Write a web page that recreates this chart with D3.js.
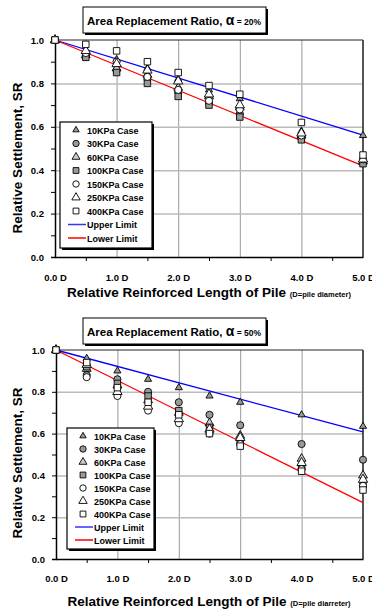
<!DOCTYPE html>
<html>
<head>
<meta charset="utf-8">
<script src="https://cdn.jsdelivr.net/npm/d3@7"></script>
<style>
  body { margin: 0; background: #fff; }
  svg { display: block; font-family: "Liberation Sans", Arial, sans-serif; font-weight: bold; }
</style>
</head>
<body>
<svg width="372" height="610"></svg>
<script>
// relative reinforced length of pile (in D)
const lengths = [0, 0.5, 1, 1.5, 2, 2.5, 3, 4, 5];
const cases = ['10KPa Case', '30KPa Case', '60KPa Case', '100KPa Case', '150KPa Case', '250KPa Case', '400KPa Case'];

// SR values, one row per case, alpha = 20%
const alpha20 = [
  [1, 0.95, 0.91, 0.87, 0.82, 0.77, 0.73, 0.58, 0.56],
  [1, 0.93, 0.86, 0.82, 0.76, 0.71, 0.66, 0.55, 0.44],
  [1, 0.93, 0.87, 0.84, 0.78, 0.74, 0.69, 0.56, 0.44],
  [1, 0.92, 0.85, 0.80, 0.74, 0.70, 0.645, 0.54, 0.43],
  [1, 0.94, 0.90, 0.83, 0.77, 0.72, 0.68, 0.56, 0.45],
  [1, 0.95, 0.89, 0.86, 0.81, 0.75, 0.70, 0.57, 0.45],
  [1, 0.98, 0.95, 0.90, 0.85, 0.79, 0.75, 0.62, 0.47]
];
// alpha = 50%
const alpha50 = [
  [1, 0.96, 0.90, 0.86, 0.82, 0.78, 0.75, 0.69, 0.635],
  [1, 0.88, 0.86, 0.80, 0.75, 0.69, 0.64, 0.55, 0.475],
  [1, 0.91, 0.83, 0.76, 0.70, 0.65, 0.59, 0.48, 0.40],
  [1, 0.92, 0.84, 0.78, 0.71, 0.63, 0.56, 0.44, 0.36],
  [1, 0.87, 0.78, 0.71, 0.65, 0.60, 0.55, 0.43, 0.35],
  [1, 0.93, 0.80, 0.73, 0.67, 0.62, 0.58, 0.46, 0.38],
  [1, 0.94, 0.82, 0.75, 0.69, 0.60, 0.54, 0.42, 0.33]
];

// limit lines, SR at 0 D and 5 D
const limitX = [0, 5];
const upper20 = [1.0, 0.562];
const lower20 = [1.0, 0.42];
const upper50 = [1.0, 0.608];
const lower50 = [1.0, 0.27];

const xTicks = [0, 1, 2, 3, 4, 5];
const yTicks = [0, 0.2, 0.4, 0.6, 0.8, 1.0];

// marker styles in case order
const markers = [
  {type: d3.symbolTriangle, size: 22, fill: '#999'},
  {type: d3.symbolCircle, size: 40, fill: '#999'},
  {type: d3.symbolTriangle, size: 34, fill: '#ccc'},
  {type: d3.symbolSquare, size: 42, fill: '#999'},
  {type: d3.symbolCircle, size: 40, fill: '#fff'},
  {type: d3.symbolTriangle, size: 38, fill: '#fff'},
  {type: d3.symbolSquare, size: 42, fill: '#fff'}
];

let svg = d3.select('svg');

function drawPanel(p) {
  let g = svg.append('g');

  let xScale = d3.scaleLinear().domain([0, 5]).range([p.left, p.right]);
  let yScale = d3.scaleLinear().domain([0, 1]).range([p.bottom, p.top]);

  // title box
  let tb = g.append('g');
  tb.append('rect')
    .attr('x', 85).attr('y', p.titleY + 2)
    .attr('width', 183).attr('height', 26)
    .attr('fill', '#000');
  tb.append('rect')
    .attr('x', 83).attr('y', p.titleY)
    .attr('width', 183).attr('height', 26)
    .attr('fill', '#fff').attr('stroke', '#000').attr('stroke-width', 1);
  let tt = tb.append('text')
    .attr('x', 174).attr('y', p.titleY + 17.5)
    .attr('text-anchor', 'middle')
    .style('font-size', '11.5px');
  tt.append('tspan').text('Area Replacement Ratio, ');
  tt.append('tspan').style('font-size', '14px').text('α');
  tt.append('tspan').style('font-size', '8.5px').text(' = ' + p.ratio);

  // grid
  g.append('g')
    .attr('transform', `translate(0,${p.bottom})`)
    .call(d3.axisBottom(xScale).tickValues([1, 2, 3, 4]).tickSize(-(p.bottom - p.top)).tickFormat(''))
    .call(a => a.select('.domain').remove())
    .selectAll('line').attr('stroke', '#999').attr('stroke-width', 1);
  g.append('g')
    .attr('transform', `translate(${p.left},0)`)
    .call(d3.axisLeft(yScale).tickValues([0.2, 0.4, 0.6, 0.8]).tickSize(-(p.right - p.left)).tickFormat(''))
    .call(a => a.select('.domain').remove())
    .selectAll('line').attr('stroke', '#bbb').attr('stroke-width', 1.5);

  // frame
  g.append('line').attr('x1', p.left).attr('x2', p.right).attr('y1', p.top).attr('y2', p.top)
    .attr('stroke', '#222').attr('stroke-width', 1);
  g.append('line').attr('x1', p.right).attr('x2', p.right).attr('y1', p.top).attr('y2', p.bottom)
    .attr('stroke', '#555').attr('stroke-width', 2);

  // axes
  let yAxis = g.append('g')
    .attr('transform', `translate(${p.left},0)`)
    .call(d3.axisLeft(yScale).tickValues(yTicks).tickSize(4).tickPadding(7).tickFormat(d3.format('.1f')));
  yAxis.append('g')
    .call(d3.axisLeft(yScale).tickValues(d3.range(0.1, 1, 0.2)).tickSize(4).tickFormat(''))
    .select('.domain').remove();
  let xAxis = g.append('g')
    .attr('transform', `translate(0,${p.bottom})`)
    .call(d3.axisBottom(xScale).tickValues(xTicks).tickSize(0).tickPadding(p.xLabelPad).tickFormat(d => d3.format('.1f')(d) + ' D'));
  xAxis.append('g')
    .call(d3.axisBottom(xScale).tickValues(d3.range(0.5, 5, 1)).tickSize(4).tickFormat(''))
    .select('.domain').remove();
  [xAxis, yAxis].forEach(a => {
    a.selectAll('.domain').attr('stroke', '#000').attr('stroke-width', 1.5);
    a.selectAll('line').attr('stroke', '#000');
    a.selectAll('text').style('font-size', '9.5px').style('font-family', '"Liberation Sans", Arial, sans-serif').style('font-weight', 'bold').attr('fill', '#000');
  });

  // limit lines
  let line = d3.line().x(d => xScale(d[0])).y(d => yScale(d[1]));
  g.append('path').datum(limitX.map((x, i) => [x, p.upper[i]]))
    .attr('d', line).attr('fill', 'none').attr('stroke', '#0000ff').attr('stroke-width', 1.3);
  g.append('path').datum(limitX.map((x, i) => [x, p.lower[i]]))
    .attr('d', line).attr('fill', 'none').attr('stroke', '#ff0000').attr('stroke-width', 1.3);

  // points
  p.data.forEach((row, ci) => {
    let m = markers[ci];
    g.append('g').selectAll('path')
      .data(row.map((v, i) => [lengths[i], v]))
      .enter()
      .append('path')
      .attr('transform', d => `translate(${xScale(d[0])},${yScale(d[1])})`)
      .attr('d', d3.symbol().type(m.type).size(m.size))
      .attr('fill', m.fill)
      .attr('stroke', '#000')
      .attr('stroke-width', 0.9);
  });

  // legend
  let lg = g.append('g').attr('transform', `translate(${p.legX},${p.legY})`);
  lg.append('rect').attr('x', 2).attr('y', 2).attr('width', p.legW).attr('height', p.legH).attr('fill', '#000');
  lg.append('rect').attr('x', 0).attr('y', 0).attr('width', p.legW).attr('height', p.legH)
    .attr('fill', '#fff').attr('stroke', '#000').attr('stroke-width', 1.2);
  let items = cases.concat(['Upper Limit', 'Lower Limit']);
  items.forEach((name, i) => {
    let y = 8 + i * p.legStep;
    if (i < cases.length) {
      let m = markers[i];
      lg.append('path')
        .attr('transform', `translate(16,${y})`)
        .attr('d', d3.symbol().type(m.type).size(m.size * 0.8))
        .attr('fill', m.fill).attr('stroke', '#000').attr('stroke-width', 0.9);
    } else {
      lg.append('line').attr('x1', 8).attr('x2', 26).attr('y1', y).attr('y2', y)
        .attr('stroke', i === cases.length ? '#3333ff' : '#ff0000').attr('stroke-width', 1.5);
    }
    lg.append('text').attr('x', 27).attr('y', y + 3.5)
      .style('font-size', '9px').text(name);
  });

  // axis titles
  let xt = g.append('text')
    .attr('x', 209).attr('y', p.xTitleY)
    .attr('text-anchor', 'middle')
    .style('font-size', '13.5px');
  xt.append('tspan').text('Relative Reinforced Length of Pile ');
  xt.append('tspan').style('font-size', '7.5px').text(p.xNote);

  g.append('text')
    .attr('transform', `translate(22,${p.yTitleY}) rotate(-90)`)
    .attr('text-anchor', 'middle')
    .style('font-size', '13.5px')
    .text('Relative Settlement, SR');
}

drawPanel({
  ratio: '20%', data: alpha20, upper: upper20, lower: lower20,
  left: 55, right: 363, top: 40, bottom: 257,
  titleY: 7, xLabelPad: 17, xTitleY: 297, yTitleY: 158, xNote: '(D=pile diameter)',
  legX: 60, legY: 122, legW: 92, legH: 126, legStep: 13.5
});
drawPanel({
  ratio: '50%', data: alpha50, upper: upper50, lower: lower50,
  left: 56, right: 363, top: 350, bottom: 559,
  titleY: 318, xLabelPad: 16, xTitleY: 606, yTitleY: 463, xNote: '(D=pile diarreter)',
  legX: 67, legY: 428, legW: 87, legH: 121, legStep: 13
});
</script>
</body>
</html>
